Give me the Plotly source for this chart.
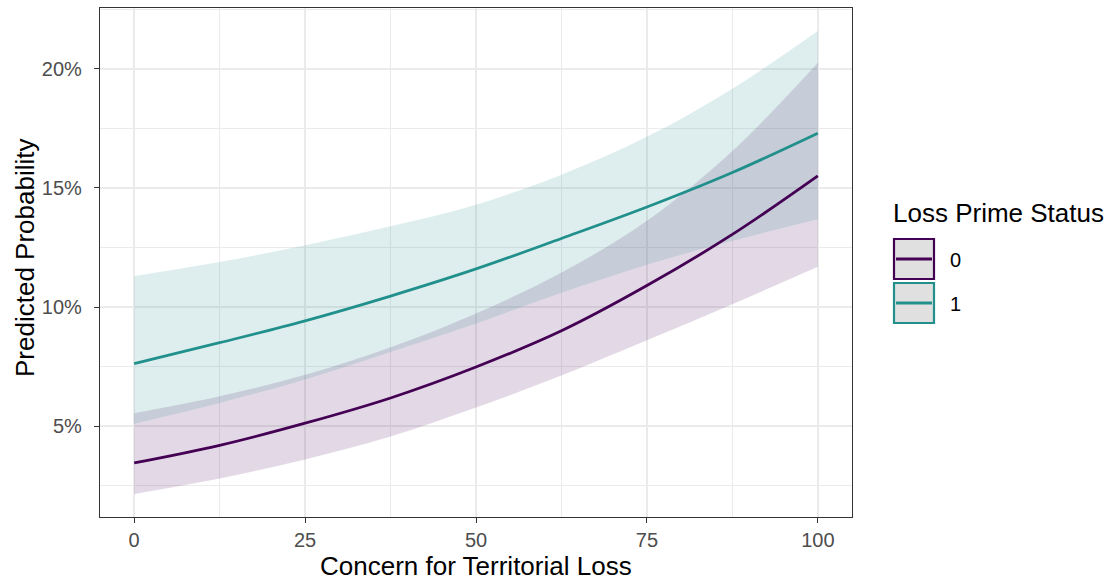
import plotly.graph_objects as go

# Concern for territorial loss (x) and predicted probabilities by loss-prime group
concern = [0, 12.5, 25, 37.5, 50, 62.5, 75, 87.5, 100]

prob_0 = [0.0345, 0.0419, 0.0512, 0.0618, 0.0748, 0.0900, 0.1090, 0.1305, 0.1551]
low_0 = [0.0215, 0.0280, 0.0360, 0.0456, 0.0578, 0.0712, 0.0860, 0.1012, 0.1169]
high_0 = [0.0554, 0.0625, 0.0715, 0.0831, 0.0973, 0.1145, 0.1362, 0.1655, 0.2026]

prob_1 = [0.0762, 0.0850, 0.0942, 0.1046, 0.1160, 0.1288, 0.1420, 0.1565, 0.1730]
low_1 = [0.0510, 0.0597, 0.0696, 0.0811, 0.0931, 0.1060, 0.1178, 0.1278, 0.1369]
high_1 = [0.1130, 0.1189, 0.1259, 0.1339, 0.1430, 0.1556, 0.1715, 0.1917, 0.2159]

groups = ["0", "1"]
colors = {"0": "#440154", "1": "#21908C"}
fills = {"0": "rgba(68,1,84,0.15)", "1": "rgba(33,144,140,0.15)"}

W, H = 1120, 580
L, R, T, B = 100, 852, 8, 517  # panel edges in pixels

FONT = "Liberation Sans, Arial, sans-serif"


def px_x(p):
    return (p - L) / (R - L)


def px_y(p):
    return (B - p) / (B - T)


fig = go.Figure()

series = {"0": (prob_0, low_0, high_0), "1": (prob_1, low_1, high_1)}

# confidence ribbons
for g in groups:
    _, lo, hi = series[g]
    fig.add_trace(go.Scatter(x=concern, y=lo, mode="lines",
                             line=dict(width=0, shape="spline", color=fills[g]),
                             showlegend=False, hoverinfo="skip"))
    fig.add_trace(go.Scatter(x=concern, y=hi, mode="lines", fill="tonexty",
                             fillcolor=fills[g],
                             line=dict(width=0, shape="spline", color=fills[g]),
                             showlegend=False, hoverinfo="skip"))

# predicted probability curves
for g in groups:
    p, _, _ = series[g]
    fig.add_trace(go.Scatter(x=concern, y=p, mode="lines",
                             line=dict(width=2.8, shape="spline", color=colors[g]),
                             name=g, showlegend=False))

axis_common = dict(
    showgrid=True, gridcolor="#EBEBEB", gridwidth=1.8,
    showline=True, mirror=True, linecolor="#333333", linewidth=1.2,
    ticks="outside", ticklen=5, tickwidth=1.2, tickcolor="#333333",
    tickfont=dict(family=FONT, size=20, color="#4D4D4D"),
    zeroline=False,
)

fig.update_xaxes(
    range=[-5, 105], tickvals=[0, 25, 50, 75, 100],
    minor=dict(tickvals=[12.5, 37.5, 62.5, 87.5], showgrid=True,
               gridcolor="#EBEBEB", gridwidth=1, ticks=""),
    ticklabelstandoff=0,
    **axis_common,
)
fig.update_yaxes(
    range=[0.0118, 0.2256], tickvals=[0.05, 0.10, 0.15, 0.20], tickformat=".0%",
    minor=dict(tickvals=[0.025, 0.075, 0.125, 0.175, 0.225], showgrid=True,
               gridcolor="#EBEBEB", gridwidth=1, ticks=""),
    ticklabelstandoff=8,
    **axis_common,
)

annotations = [
    dict(text="Concern for Territorial Loss", x=px_x(476), y=px_y(566),
         xref="paper", yref="paper", xanchor="center", yanchor="middle",
         showarrow=False, font=dict(family=FONT, size=26, color="black")),
    dict(text="Predicted Probability", x=px_x(25), y=px_y(258),
         xref="paper", yref="paper", xanchor="center", yanchor="middle",
         textangle=-90, showarrow=False,
         font=dict(family=FONT, size=26, color="black")),
    dict(text="Loss Prime Status", x=px_x(891), y=px_y(213),
         xref="paper", yref="paper", xanchor="left", yanchor="middle",
         showarrow=False, font=dict(family=FONT, size=26, color="black")),
]

shapes = []
key_tops = {"0": 239, "1": 283}
for g in groups:
    top = key_tops[g]
    bot = top + 40
    mid = (top + bot) / 2
    shapes.append(dict(type="rect", xref="paper", yref="paper",
                       x0=px_x(894), x1=px_x(934), y0=px_y(bot), y1=px_y(top),
                       fillcolor="#E0E0E0", line=dict(color=colors[g], width=2.2)))
    shapes.append(dict(type="line", xref="paper", yref="paper",
                       x0=px_x(896), x1=px_x(932), y0=px_y(mid), y1=px_y(mid),
                       line=dict(color=colors[g], width=2.8)))
    annotations.append(dict(text=g, x=px_x(948), y=px_y(mid + 1),
                            xref="paper", yref="paper", xanchor="left",
                            yanchor="middle", showarrow=False,
                            font=dict(family=FONT, size=20, color="black")))

fig.update_layout(
    width=W, height=H,
    margin=dict(l=L, r=W - R, t=T, b=H - B),
    paper_bgcolor="white", plot_bgcolor="white",
    showlegend=False,
    annotations=annotations,
    shapes=shapes,
)

fig.write_html("out.html")
